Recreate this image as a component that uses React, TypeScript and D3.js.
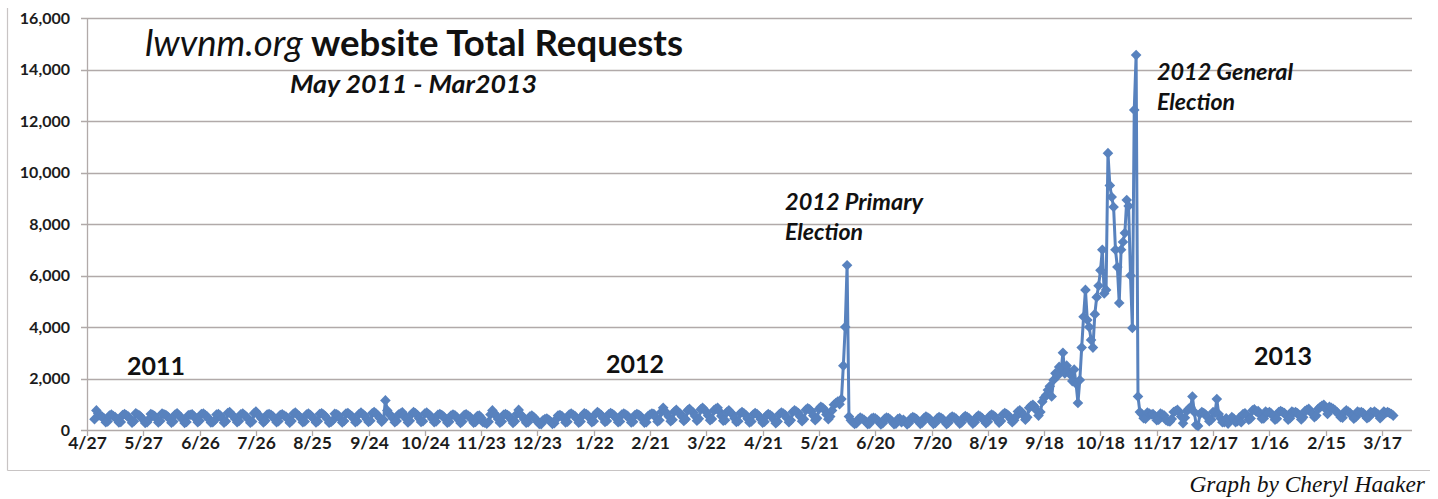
import React from "react";
import * as d3 from "d3";

// ---- data (daily total requests) ----
const seriesStarts = ["2011-05-01", "2012-01-01", "2013-01-01"];

// 2011-05-01 (Sun) .. 2011-12-31, one row per week Sun..Sat
const requests2011 = [
  420, 760, 640, 560, 520, 450, 300,
  330, 560, 600, 540, 500, 420, 290,
  310, 580, 620, 570, 520, 430, 280,
  340, 650, 600, 560, 480, 400, 270,
  300, 420, 620, 590, 540, 450, 290,
  350, 640, 610, 580, 520, 430, 280,
  330, 600, 650, 560, 500, 410, 270,
  310, 570, 590, 610, 530, 440, 300,
  360, 620, 640, 580, 520, 420, 290,
  300, 380, 600, 620, 560, 450, 280,
  340, 660, 700, 600, 540, 430, 300,
  350, 610, 640, 570, 510, 420, 280,
  330, 650, 720, 610, 540, 440, 290,
  360, 600, 620, 590, 530, 420, 300,
  340, 580, 610, 560, 520, 430, 280,
  350, 630, 680, 600, 540, 450, 300,
  330, 600, 640, 580, 500, 420, 290,
  340, 620, 650, 600, 530, 430, 280,
  310, 380, 630, 610, 560, 440, 290,
  350, 640, 660, 600, 540, 450, 300,
  340, 620, 680, 610, 550, 430, 310,
  360, 650, 700, 640, 560, 460, 320,
  400, 1150, 760, 620, 560, 450, 300,
  350, 600, 640, 690, 560, 440, 290,
  360, 620, 700, 650, 580, 450, 310,
  340, 640, 680, 610, 550, 430, 300,
  330, 590, 620, 580, 520, 420, 280,
  320, 560, 600, 570, 500, 400, 270,
  330, 580, 610, 560, 510, 410, 280,
  310, 540, 560, 480, 300, 280, 250,
  320, 600, 760, 650, 560, 430, 280,
  330, 590, 620, 580, 520, 400, 270,
  340, 620, 780, 600, 530, 410, 280,
  300, 520, 560, 500, 430, 320, 240,
  230, 380, 420, 440, 400, 330, 240,
];

// 2012-01-01 (Sun) .. 2012-12-31
const requests2012 = [
  260, 420, 560, 580, 540, 440, 290,
  320, 600, 640, 590, 540, 430, 280,
  330, 560, 650, 620, 560, 450, 300,
  340, 620, 700, 640, 580, 460, 310,
  350, 610, 660, 620, 560, 450, 300,
  330, 600, 640, 600, 550, 440, 290,
  320, 580, 620, 590, 530, 420, 280,
  300, 540, 600, 640, 620, 500, 330,
  380, 700, 860, 720, 640, 520, 340,
  400, 720, 780, 700, 640, 520, 350,
  420, 760, 820, 740, 680, 540, 360,
  440, 800, 860, 780, 700, 560, 380,
  430, 760, 820, 860, 720, 540, 360,
  380, 700, 760, 680, 600, 460, 310,
  340, 640, 700, 650, 580, 440, 290,
  330, 600, 660, 620, 540, 420, 280,
  320, 560, 620, 580, 520, 400, 260,
  330, 620, 680, 640, 580, 460, 300,
  380, 700, 760, 720, 660, 520, 340,
  420, 780, 840, 800, 720, 560, 380,
  460, 820, 900, 860, 780, 600, 420,
  520, 760, 980, 1050, 1100, 1000, 1200,
  2500, 4000, 6400, 520, 380, 300, 240,
  260, 420, 480, 440, 400, 330, 230,
  250, 440, 470, 450, 400, 320, 220,
  260, 430, 480, 460, 410, 330, 230,
  250, 420, 450, 300, 400, 320, 220,
  270, 450, 500, 470, 420, 340, 240,
  280, 460, 520, 480, 430, 340, 240,
  270, 450, 500, 470, 420, 330, 230,
  280, 470, 520, 490, 440, 350, 250,
  290, 480, 540, 500, 450, 360, 250,
  300, 500, 560, 520, 460, 370, 260,
  320, 540, 600, 560, 500, 400, 280,
  350, 600, 660, 620, 560, 440, 300,
  380, 520, 720, 760, 700, 560, 400,
  500, 860, 940, 980, 900, 760, 560,
  700, 1100, 1250, 1350, 1550, 1700, 1300,
  1940, 2200, 2100, 2450, 2300, 3000, 2200,
  2500, 2300, 2150, 1900, 2350, 1800, 1050,
  1940, 3200, 4400, 5440, 4270, 4000, 3500,
  3200, 4500, 5160, 5600, 6200, 7000, 5300,
  5440, 10750, 9500, 9050, 8660, 7000, 6330,
  4930, 7000, 7300, 7650, 8930, 8700, 6000,
  3960, 12430, 14560, 1300, 700, 620, 460,
  440, 680, 640, 600, 620, 540, 380,
  400, 640, 600, 560, 380, 340, 330,
  430, 700, 740, 780, 700, 520, 260,
  480, 740, 820, 880, 1300, 700, 200,
  160, 620, 700, 660, 600, 500, 340,
  400, 700, 660, 1200, 620, 460, 300,
  300, 450, 250, 400, 500, 440, 300,
  340, 480,
];

// 2013-01-01 (Tue) .. 2013-03-23
const requests2013 = [
  300, 620, 650, 560, 400,
  450, 760, 800, 720, 740, 600, 440,
  450, 720, 660, 700, 640, 540, 400,
  440, 700, 740, 700, 660, 560, 400,
  460, 720, 680, 700, 650, 550, 410,
  500, 740, 780, 820, 720, 620, 500,
  560, 820, 880, 940, 980, 820, 620,
  900, 860, 820, 760, 700, 600, 500,
  480, 700, 760, 720, 660, 560, 440,
  500, 720, 680, 700, 660, 560, 460,
  500, 700, 660, 720, 660, 600, 460,
  540, 720, 660, 700, 660, 620, 560,
];

const xTickDates = [
  "2011-04-27", "2011-05-27", "2011-06-26", "2011-07-26", "2011-08-25", "2011-09-24",
  "2011-10-24", "2011-11-23", "2011-12-23", "2012-01-22", "2012-02-21", "2012-03-22",
  "2012-04-21", "2012-05-21", "2012-06-20", "2012-07-20", "2012-08-19", "2012-09-18",
  "2012-10-18", "2012-11-17", "2012-12-17", "2013-01-16", "2013-02-15", "2013-03-17",
];
const yTicks = [0, 2000, 4000, 6000, 8000, 10000, 12000, 14000, 16000];
const xDomain = ["2011-04-27", "2013-04-02"];

const yearLabels = [
  { text: "2011", x: 127, y: 375 },
  { text: "2012", x: 606, y: 373 },
  { text: "2013", x: 1254, y: 365 },
];

// ---- layout ----
const W = 1438;
const H = 499;
const PLOT = { left: 87, right: 1412, top: 18, bottom: 430 };
const FONT = "Lato, 'Open Sans', sans-serif";
const LINE_COLOR = "#5882be";
const GRID_COLOR = "#b1aaa9";

export default function App() {
  const parse = d3.utcParse("%Y-%m-%d");
  const x = d3
    .scaleUtc()
    .domain(xDomain.map((s) => parse(s) as Date))
    .range([PLOT.left, PLOT.right]);
  const y = d3.scaleLinear().domain([0, 16000]).range([PLOT.bottom, PLOT.top]);

  const series = [requests2011, requests2012, requests2013].flatMap((arr, k) => {
    const start = parse(seriesStarts[k]) as Date;
    return arr.map((v, i) => ({ date: d3.utcDay.offset(start, i), value: v }));
  });

  const line = d3
    .line<{ date: Date; value: number }>()
    .x((d) => x(d.date))
    .y((d) => y(d.value));

  const diamondType = (d3 as any).symbolDiamond2 ?? d3.symbolDiamond;
  const diamond = d3.symbol().type(diamondType).size(72)() as string;
  const fmtTick = d3.utcFormat("%-m/%-d");
  const fmtY = d3.format(",");

  const annot = { fontFamily: FONT, fontSize: 22, fontWeight: 700, fontStyle: "italic", fill: "#111" } as const;

  return (
    <svg
      width={W}
      height={H}
      viewBox={`0 0 ${W} ${H}`}
      style={{ position: "absolute", left: 0, top: 0, background: "#fff" }}
    >
      <rect x={0} y={0} width={W} height={H} fill="#fff" />
      {/* outer frame */}
      <line x1={7.5} x2={7.5} y1={8} y2={470.5} stroke="#c8c4c4" strokeWidth={1.2} />
      <line x1={7.5} x2={1430} y1={470.5} y2={470.5} stroke="#c8c4c4" strokeWidth={1.2} />

      {/* gridlines */}
      {yTicks.map((t) => (
        <line
          key={t}
          x1={PLOT.left - 6}
          x2={PLOT.right}
          y1={Math.round(y(t)) + 0.5}
          y2={Math.round(y(t)) + 0.5}
          stroke={GRID_COLOR}
          strokeWidth={1.3}
        />
      ))}
      {/* y axis line */}
      <line
        x1={PLOT.left + 0.5}
        x2={PLOT.left + 0.5}
        y1={PLOT.top}
        y2={PLOT.bottom}
        stroke={GRID_COLOR}
        strokeWidth={1.3}
      />
      {/* y labels */}
      {yTicks.map((t) => (
        <text
          key={t}
          x={70}
          y={y(t) + 5.5}
          textAnchor="end"
          fontFamily={FONT}
          fontWeight={700}
          fontSize={16}
          fill="#1c1c1c"
        >
          {fmtY(t)}
        </text>
      ))}
      {/* x ticks and labels */}
      {xTickDates.map((s) => {
        const d = parse(s) as Date;
        const px = Math.round(x(d)) + 0.5;
        return (
          <g key={s}>
            <line x1={px} x2={px} y1={PLOT.bottom} y2={PLOT.bottom + 6} stroke={GRID_COLOR} strokeWidth={1.3} />
            <text
              x={px}
              y={448.5}
              textAnchor="middle"
              fontFamily={FONT}
              fontWeight={700}
              fontSize={17.5}
              fill="#1c1c1c"
            >
              {fmtTick(d)}
            </text>
          </g>
        );
      })}

      {/* data line */}
      <path d={line(series) as string} fill="none" stroke={LINE_COLOR} strokeWidth={3} strokeLinejoin="round" />
      {series.map((d, i) => (
        <path
          key={i}
          d={diamond}
          transform={`translate(${x(d.date)},${y(d.value)})`}
          fill={LINE_COLOR}
        />
      ))}

      {/* title */}
      <text x={145} y={56} fontFamily={FONT} fontSize={36} fill="#111" textLength={538} lengthAdjust="spacingAndGlyphs">
        <tspan fontStyle="italic">lwvnm.org</tspan>
        <tspan fontWeight={700}> website Total Requests</tspan>
      </text>
      <text
        x={290}
        y={93}
        fontFamily={FONT}
        fontSize={24}
        fontWeight={700}
        fontStyle="italic"
        fill="#111"
        textLength={247}
        lengthAdjust="spacingAndGlyphs"
      >
        May 2011 - Mar2013
      </text>

      {/* year labels */}
      {yearLabels.map((l) => (
        <text key={l.text} x={l.x} y={l.y} fontFamily={FONT} fontSize={25} fontWeight={700} fill="#111">
          {l.text}
        </text>
      ))}

      {/* annotations */}
      <text x={785} y={210} {...annot} textLength={138} lengthAdjust="spacingAndGlyphs">2012 Primary</text>
      <text x={785} y={240} {...annot} textLength={78} lengthAdjust="spacingAndGlyphs">Election</text>
      <text x={1157} y={80} {...annot} textLength={136} lengthAdjust="spacingAndGlyphs">2012 General</text>
      <text x={1157} y={110} {...annot} textLength={78} lengthAdjust="spacingAndGlyphs">Election</text>

      {/* credit */}
      <text
        x={1425}
        y={492}
        textAnchor="end"
        fontFamily="'Liberation Serif', 'DejaVu Serif', serif"
        fontStyle="italic"
        fontSize={23.5}
        fill="#111"
      >
        Graph by Cheryl Haaker
      </text>
    </svg>
  );
}
